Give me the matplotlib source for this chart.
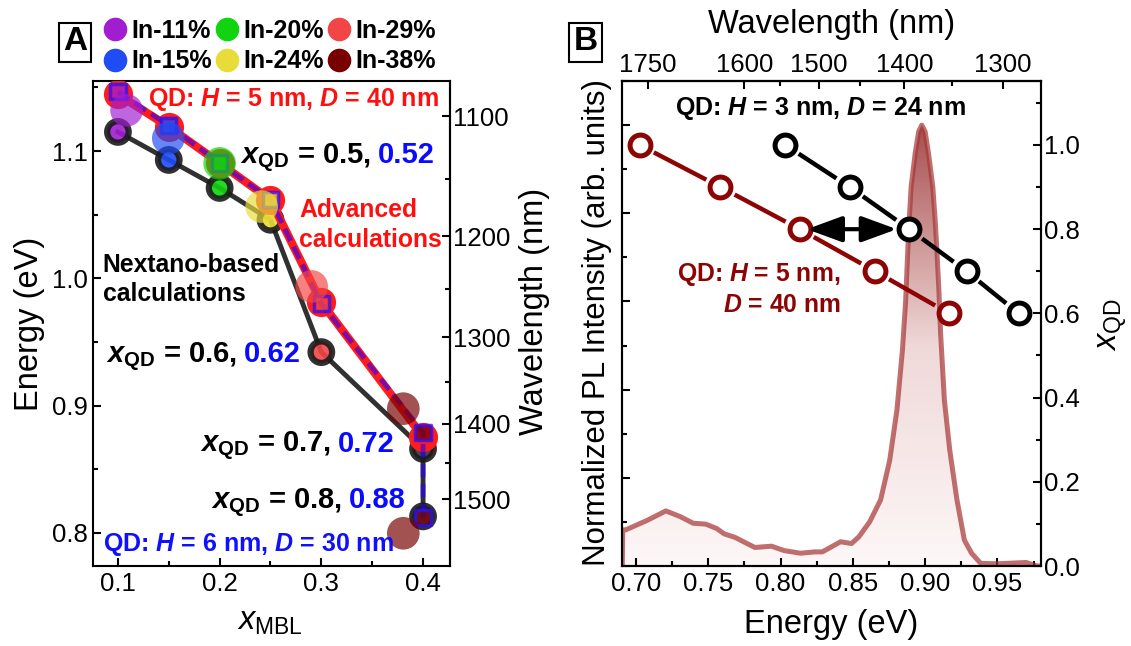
import numpy as np
import matplotlib
matplotlib.use("Agg")
import matplotlib.pyplot as plt
from matplotlib.colors import LinearSegmentedColormap
from matplotlib.lines import Line2D
from matplotlib.patches import ArrowStyle
from matplotlib.ticker import MultipleLocator, FixedLocator

plt.rcParams['font.family'] = ['Liberation Sans', 'DejaVu Sans']
plt.rcParams['mathtext.fontset'] = 'custom'
plt.rcParams['mathtext.rm'] = 'Liberation Sans'
plt.rcParams['mathtext.it'] = 'Liberation Sans:italic'
plt.rcParams['mathtext.bf'] = 'Liberation Sans:bold'
plt.rcParams['mathtext.bfit'] = 'Liberation Sans:italic:bold'
plt.rcParams['axes.linewidth'] = 1.5

HC = 1239.84  # eV*nm

# ---- panel A data (x_MBL vs transition energy) ----
in_labels = ["In-11%", "In-15%", "In-20%", "In-24%", "In-29%", "In-38%"]
in_colors = ["#a01ed0", "#1f4cf5", "#0fd40f", "#e8dc3a", "#f24646", "#780000"]

nextano_x = [0.10, 0.15, 0.20, 0.25, 0.30, 0.40, 0.40]
nextano_e = [1.115, 1.093, 1.071, 1.046, 0.942, 0.866, 0.813]
nextano_fill = [0, 1, 2, 3, 4, None, None]

adv5_x = [0.10, 0.15, 0.20, 0.25, 0.30, 0.40]
adv5_e = [1.1445, 1.119, 1.0905, 1.0616, 0.981, 0.8755]

adv6_x = [0.10, 0.15, 0.20, 0.25, 0.30, 0.40, 0.40]
adv6_e = [1.1465, 1.120, 1.0905, 1.062, 0.980, 0.879, 0.812]
adv6_fill = [0, 1, 2, 3, 4, 5, 5]

exp_x = [0.1085, 0.1495, 0.200, 0.2413, 0.2905, 0.3806, 0.3806]
exp_e = [1.132, 1.110, 1.0903, 1.0563, 0.9936, 0.8976, 0.7997]
exp_sample = [0, 1, 2, 3, 4, 5, 5]

xqd_nextano = ["0.5", "0.6", "0.7", "0.8"]
xqd_advanced = ["0.52", "0.62", "0.72", "0.88"]

wl_ticks_a = [1100, 1200, 1300, 1400, 1500]
wl_minor_a = [1150, 1250, 1350, 1450]

# ---- panel B data (PL spectrum and x_QD vs energy) ----
pl_energy = [0.6906, 0.6909, 0.6930, 0.7081, 0.7207, 0.7307, 0.7396, 0.7483, 0.7559,
             0.7610, 0.7685, 0.7823, 0.7937, 0.8025, 0.8138, 0.8239, 0.8289, 0.8415,
             0.8491, 0.8541, 0.8616, 0.8692, 0.8755, 0.8805, 0.8843, 0.8865, 0.8880,
             0.8890, 0.8903, 0.8931, 0.8955, 0.8977, 0.9000, 0.9023, 0.9053, 0.9069,
             0.9081, 0.9095, 0.9107, 0.9133, 0.9170, 0.9220, 0.9271, 0.9321, 0.9384,
             0.9497, 0.9698, 0.9773, 0.9801]
pl_int = [0.0, 0.082, 0.082, 0.104, 0.125, 0.112, 0.097, 0.095, 0.085,
          0.073, 0.065, 0.042, 0.045, 0.035, 0.029, 0.032, 0.032, 0.055,
          0.051, 0.066, 0.100, 0.150, 0.240, 0.354, 0.490, 0.600, 0.717,
          0.785, 0.860, 0.936, 0.985, 1.000, 0.985, 0.936, 0.860, 0.785,
          0.717, 0.626, 0.527, 0.376, 0.263, 0.150, 0.059, 0.029, 0.006,
          0.005, 0.008, 0.0, 0.0]

xqd = [1.0, 0.9, 0.8, 0.7, 0.6]
qd3_energy = [0.8033, 0.8479, 0.8890, 0.9286, 0.9646]
qd5_energy = [0.7026, 0.7585, 0.8133, 0.8654, 0.9165]
arrow_span = [0.8182, 0.8804]
arrow_xqd = 0.8

wl_ticks_b = [1750, 1600, 1500, 1400, 1300]
wl_minor_b = [1550, 1450, 1350]

TICK = 18.5
LAB = 23.5


def ev_nm(v):
    v = np.asarray(v, dtype=float)
    with np.errstate(divide='ignore'):
        return HC / v


def style_ticks(ax, **kw):
    ax.tick_params(which='both', direction='in', width=1.5, labelsize=TICK, **kw)
    ax.tick_params(which='major', length=6)
    ax.tick_params(which='minor', length=3.5)


def two_tone(ax, x, y, first, second, color2, size):
    t = ax.text(x, y, first, fontsize=size, fontweight='bold', va='baseline', zorder=10)
    bb = t.get_window_extent(renderer=fig.canvas.get_renderer())
    xr = ax.transData.inverted().transform((bb.x1, bb.y0))[0]
    ax.annotate(second, xy=(xr, y), xytext=(5, 0), textcoords='offset points',
                fontsize=size, fontweight='bold', color=color2, va='baseline', zorder=10)


def gapped_line(ax, xs, ys, gap, **kw):
    # segments between markers, shortened by `gap` pixels at both ends
    pts = ax.transData.transform(np.column_stack([xs, ys]))
    for p0, p1 in zip(pts[:-1], pts[1:]):
        u = (p1 - p0) / np.hypot(*(p1 - p0))
        seg = ax.transData.inverted().transform([p0 + u * gap, p1 - u * gap])
        ax.plot(seg[:, 0], seg[:, 1], solid_capstyle='butt', **kw)


fig = plt.figure(figsize=(11.31, 6.46), dpi=100)

# =================== panel A ===================
axA = fig.add_axes([93 / 1131, 80 / 646, 357 / 1131, 485 / 646])
axA.set_xlim(0.0755, 0.4265)
axA.set_ylim(0.774, 1.155)

dark = "#1a1a1a"
axA.plot(nextano_x, nextano_e, color=dark, lw=3.5, alpha=0.9, zorder=2)
axA.scatter(nextano_x, nextano_e, s=15.5 ** 2,
            c=[in_colors[i] if i is not None else "#333333" for i in nextano_fill],
            edgecolors=dark, linewidths=4.5, alpha=0.9, zorder=3)

axA.plot(adv5_x, adv5_e, color="#ff1c1c", lw=6, zorder=4)
axA.scatter(adv5_x, adv5_e, s=21 ** 2, c="#ff1c1c", linewidths=0, zorder=4)

axA.plot(adv6_x, adv6_e, color="#2a00ff", lw=3.5, alpha=0.6, dashes=(2.8, 1.3), zorder=5)
axA.scatter(adv6_x, adv6_e, marker='s', s=11 ** 2, c=[in_colors[i] for i in adv6_fill],
            edgecolors="#2a10ff", linewidths=2.5, alpha=0.75, zorder=6)

axA.scatter(exp_x, exp_e, s=23.5 ** 2, c=[in_colors[i] for i in exp_sample],
            alpha=0.68, linewidths=0, zorder=7)

axA.xaxis.set_major_locator(MultipleLocator(0.1))
axA.xaxis.set_minor_locator(MultipleLocator(0.05))
axA.yaxis.set_major_locator(MultipleLocator(0.1))
axA.yaxis.set_minor_locator(MultipleLocator(0.05))
style_ticks(axA, top=False, right=False, pad=4)
axA.set_xlabel(r"$\mathit{x}_{\mathrm{MBL}}$", fontsize=LAB, va='center')
axA.xaxis.set_label_coords(0.496, -0.114)
axA.set_ylabel("Energy (eV)", fontsize=LAB, va='center')
axA.yaxis.set_label_coords(-0.179, 0.5)

secA = axA.secondary_yaxis('right', functions=(ev_nm, ev_nm))
secA.yaxis.set_major_locator(FixedLocator(wl_ticks_a))
secA.yaxis.set_minor_locator(FixedLocator(wl_minor_a))
style_ticks(secA, pad=2.4)
fig.text(534 / 1131, 1 - 311 / 646, "Wavelength (nm)", fontsize=LAB, rotation=90,
         ha='center', va='center')

handles = [Line2D([], [], ls='none', marker='o', ms=17, mfc=c, mec='none') for c in in_colors]
axA.legend(handles, in_labels, ncol=3, loc='upper left',
           bbox_to_anchor=(104 / 1131, 1 - 19 / 646), bbox_transform=fig.transFigure,
           frameon=False, prop={'weight': 'bold', 'size': 18}, handlelength=0.9,
           handletextpad=0.2, columnspacing=0.15, labelspacing=0.26,
           borderpad=0, borderaxespad=0)

fig.text(75 / 1131, 1 - 42 / 646, "A", ha='center', va='center', fontsize=24, fontweight='bold',
         bbox=dict(boxstyle='square,pad=0.12', fc='white', ec='black', lw=1.5))

axA.text(0.1295, 1.1353, r"QD: $\mathbfit{H}$ = 5 nm, $\mathbfit{D}$ = 40 nm", color="#ff1010",
         fontsize=18, fontweight='bold', va='baseline', zorder=10)
axA.text(0.085, 0.7861, r"QD: $\mathbfit{H}$ = 6 nm, $\mathbfit{D}$ = 30 nm", color="#1010ff",
         fontsize=18, fontweight='bold', va='baseline', zorder=10)
axA.text(0.278, 1.0485, "Advanced", color="#ff1010", fontsize=17.8, fontweight='bold', va='baseline')
axA.text(0.278, 1.0249, "calculations", color="#ff1010", fontsize=17.8, fontweight='bold', va='baseline')
axA.text(0.085, 1.0053, "Nextano-based", color="black", fontsize=17.8, fontweight='bold', va='baseline')
axA.text(0.085, 0.9818, "calculations", color="black", fontsize=17.8, fontweight='bold', va='baseline')

label_pos = [(0.220, 1.0903), (0.0882, 0.9344), (0.1806, 0.8638), (0.1912, 0.8194)]
for (lx, ly), a, b in zip(label_pos, xqd_nextano, xqd_advanced):
    two_tone(axA, lx, ly, r"$\mathbfit{x}_{\mathbf{QD}}$ = " + a + ",", b, "#0a0aff", 21)

# =================== panel B ===================
axB = fig.add_axes([622 / 1131, 80 / 646, 419 / 1131, 485 / 646])
axB.set_xlim(0.6904, 0.9801)
axB.set_ylim(0, 1.1)

cmap = LinearSegmentedColormap.from_list("pl", ["#fdf7f7", "#f0d8d8", "#a84e4e"])
poly = axB.fill_between(pl_energy, pl_int, 0, color='none', lw=0)
grad = axB.imshow(np.linspace(0, 1, 256).reshape(-1, 1), cmap=cmap, origin='lower',
                  extent=[0.6904, 0.9801, 0, 1.0], aspect='auto', zorder=1)
grad.set_clip_path(poly.get_paths()[0], transform=axB.transData)
axB.plot(pl_energy, pl_int, color="#a83838", alpha=0.72, lw=3.6, zorder=2)

axB.xaxis.set_major_locator(MultipleLocator(0.05))
axB.xaxis.set_minor_locator(MultipleLocator(0.025))
axB.xaxis.set_major_formatter(plt.FormatStrFormatter('%.2f'))
axB.yaxis.set_major_locator(MultipleLocator(0.2))
axB.yaxis.set_minor_locator(MultipleLocator(0.1))
style_ticks(axB, top=False, right=False, labelleft=False, pad=4)
axB.set_xlabel("Energy (eV)", fontsize=LAB, va='center')
axB.xaxis.set_label_coords(0.5, -0.1206)
axB.set_ylabel("Normalized PL Intensity (arb. units)", fontsize=22.5, va='center')
axB.yaxis.set_label_coords(-0.060, 0.502)

axR = axB.twinx()
axR.set_ylim(0, 1.152)
axR.yaxis.set_major_locator(MultipleLocator(0.2))
axR.yaxis.set_minor_locator(MultipleLocator(0.1))
style_ticks(axR, pad=2.5)
axR.set_ylabel(r"$\mathit{x}_{\mathrm{QD}}$", fontsize=LAB, va='center', rotation=90)
axR.yaxis.set_label_coords(1.172, 0.497)

for energy, col in [(qd5_energy, "#8d0404"), (qd3_energy, "black")]:
    gapped_line(axR, energy, xqd, 16, color=col, lw=3.2, zorder=3)
    axR.plot(energy, xqd, ls='none', marker='o', ms=15, mew=3.6, mfc='white', mec=col, zorder=4)

axR.annotate("", xy=(arrow_span[0], arrow_xqd), xytext=(arrow_span[1], arrow_xqd),
             arrowprops=dict(arrowstyle=ArrowStyle('<|-|>', head_length=0.9, head_width=0.33),
                             mutation_scale=24, lw=3, color='black', shrinkA=0, shrinkB=0),
             zorder=5)

secB = axB.secondary_xaxis('top', functions=(ev_nm, ev_nm))
secB.xaxis.set_major_locator(FixedLocator(wl_ticks_b))
secB.xaxis.set_minor_locator(FixedLocator(wl_minor_b))
style_ticks(secB, pad=3)
fig.text(831.4 / 1131, 1 - 24.5 / 646, "Wavelength (nm)", fontsize=LAB, ha='center', va='center')

axB.text(0.727, 1.0227, r"QD: $\mathbfit{H}$ = 3 nm, $\mathbfit{D}$ = 24 nm", color="black",
         fontsize=18, fontweight='bold', va='baseline', zorder=10)
axB.text(0.8415, 0.647, r"QD: $\mathbfit{H}$ = 5 nm,", color="#8d0404", ha='right',
         fontsize=17.8, fontweight='bold', va='baseline', zorder=10)
axB.text(0.842, 0.5767, r"$\mathbfit{D}$ = 40 nm", color="#8d0404", ha='right',
         fontsize=17.8, fontweight='bold', va='baseline', zorder=10)

fig.text(585.5 / 1131, 1 - 42 / 646, "B", ha='center', va='center', fontsize=24, fontweight='bold',
         bbox=dict(boxstyle='square,pad=0.12', fc='white', ec='black', lw=1.5))

fig.savefig("out.png", dpi=100)
